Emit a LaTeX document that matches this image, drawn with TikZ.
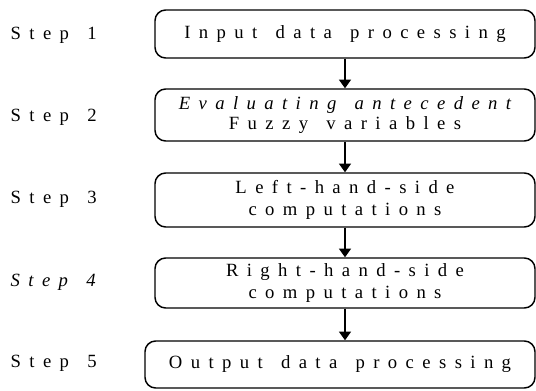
\documentclass[tikz,border=0pt]{standalone}
\usepackage{fontspec}
\newfontfamily\spacedfont[LetterSpace=45,WordSpace=1.4]{Liberation Serif}
\usetikzlibrary{arrows.meta}

\begin{document}
\begin{tikzpicture}[x=0.75pt,y=-0.75pt,every node/.style={font=\fontsize{14}{17}\selectfont\spacedfont},
  stepbox/.style={draw,line width=1.1pt,rounded corners=8pt,minimum width=285pt,align=center,inner sep=0pt},
  flow/.style={line width=1.2pt,-{Triangle[width=9pt,length=6.5pt]}}]
\useasboundingbox (0,0) rectangle (536,390);
\node[stepbox,minimum height=36pt] (b1) at (345,34) {Input data processing};
\node[stepbox,minimum height=39pt,font=\fontsize{14}{15}\selectfont\spacedfont] (b2) at (345,115) {{\itshape Evaluating antecedent}\\Fuzzy variables};
\node[stepbox,minimum height=40.5pt] (b3) at (345,200) {Left-hand-side\\computations};
\node[stepbox,minimum height=37.5pt] (b4) at (345,283) {Right-hand-side\\computations};
\node[stepbox,minimum height=35.25pt,minimum width=292.5pt] (b5) at (340,364.5) {Output data processing};
\node[anchor=west] (s1) at (6,35) {Step 1};
\node[anchor=west] (s2) at (6,117) {Step 2};
\node[anchor=west] (s3) at (6,199) {Step 3};
\node[anchor=west] (s4) at (6,282) {\itshape Step 4};
\node[anchor=west] (s5) at (6,363) {Step 5};
\draw[flow] (b1) -- (b2);
\draw[flow] (b2) -- (b3);
\draw[flow] (b3) -- (b4);
\draw[flow] (b4.south) -- (b4.south |- b5.north);
\end{tikzpicture}
\end{document}
